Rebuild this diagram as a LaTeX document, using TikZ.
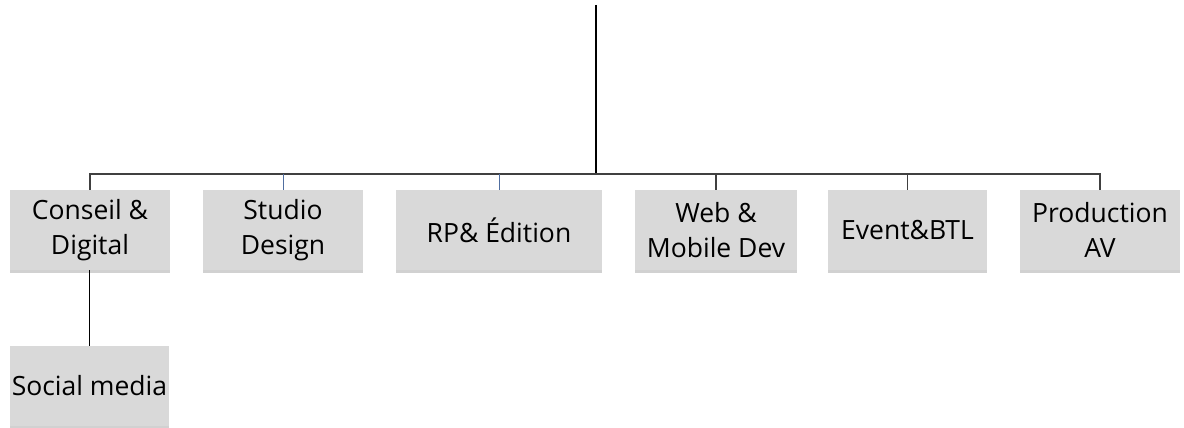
\documentclass[tikz,border=0pt]{standalone}
\usepackage{fontspec}
\setmainfont{Open Sans}
\usetikzlibrary{shadows}
\definecolor{boxfill}{RGB}{217,217,217}
\definecolor{linegray}{RGB}{64,64,64}
\definecolor{lineblue}{RGB}{80,110,160}
\tikzset{
  unit/.style={draw=none, fill=boxfill, minimum height=80pt, inner sep=0pt, align=center,
    font=\fontsize{26.5}{35}\selectfont, text=black,
    drop shadow={shadow xshift=0pt, shadow yshift=-2.5pt, fill=black!40, opacity=.45}},
  link/.style={draw=linegray, line width=1.2pt},
  bluelink/.style={draw=lineblue, line width=1pt},
  mainlink/.style={draw=black, line width=2pt}
}
\begin{document}
\begin{tikzpicture}[x=1pt,y=-1pt]
\useasboundingbox (0,0) rectangle (1184,428);
\node[unit, minimum width=160pt] (cd) at (90,230) {Conseil \&\\Digital};
\node[unit, minimum width=160pt] (sd) at (283,230) {Studio\\Design};
\node[unit, minimum width=206pt] (rp) at (499,230) {RP\& Édition};
\node[unit, minimum width=162pt] (wm) at (716,230) {Web \&\\Mobile Dev};
\node[unit, minimum width=159pt] (ev) at (907.5,230) {Event\&BTL};
\node[unit, minimum width=160pt] (pa) at (1100,230) {Production\\AV};
\node[unit, minimum width=159pt] (sm) at (89.5,386) {Social media};
\coordinate (top) at (596,5);
\coordinate (bus) at (596,174);
\draw[mainlink] (top) -- (bus);
\draw[link] (cd.north) |- (bus);
\draw[link] (pa.north) |- (bus);
\draw[bluelink] (sd.north) -- (sd.north |- bus);
\draw[bluelink] (rp.north) -- (rp.north |- bus);
\draw[link] (wm.north) -- (wm.north |- bus);
\draw[link] (ev.north) -- (ev.north |- bus);
\draw[link, draw=black] (cd.south -| sm.north) -- (sm.north);
\end{tikzpicture}
\end{document}
